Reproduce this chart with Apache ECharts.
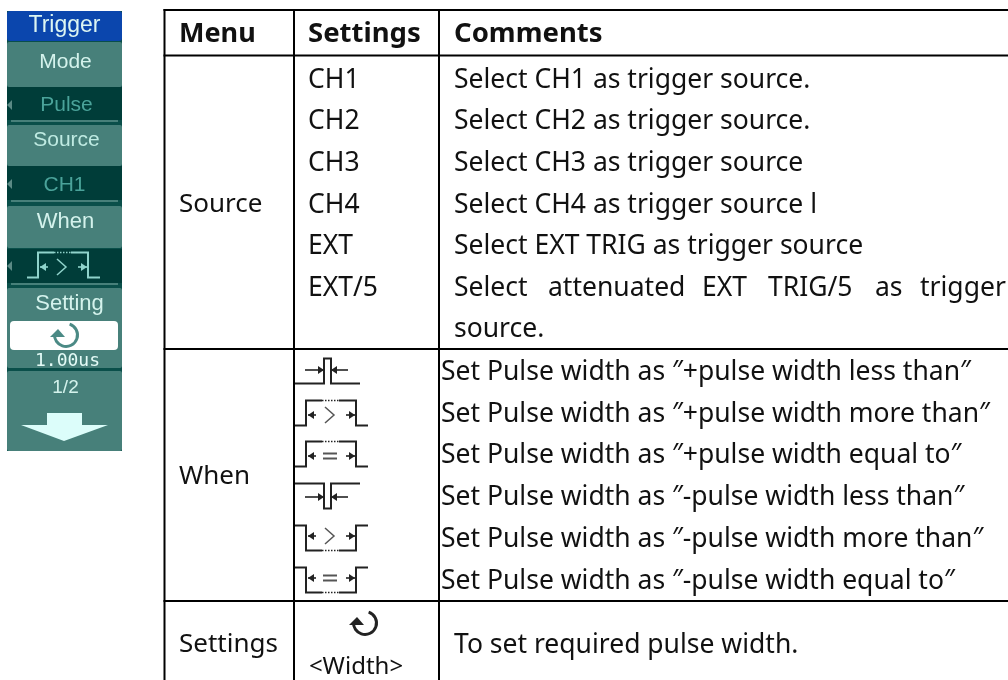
<!DOCTYPE html>
<html>
<head>
<meta charset="utf-8">
<title>Trigger - Pulse</title>
<style>
  html, body { margin: 0; background: #fff; }
  #chart { width: 1008px; height: 680px; }
</style>
<script src="https://cdn.jsdelivr.net/npm/echarts@6/dist/echarts.min.js"></script>
</head>
<body>
<div id="chart"></div>
<script>
// table text
const headers = ['Menu', 'Settings', 'Comments'];
const menus = ['Source', 'When', 'Settings'];
const sourceSettings = ['CH1', 'CH2', 'CH3', 'CH4', 'EXT', 'EXT/5'];
const sourceComments = [
  'Select CH1 as trigger source.',
  'Select CH2 as trigger source.',
  'Select CH3 as trigger source',
  'Select CH4 as trigger source l',
  'Select EXT TRIG as trigger source'
];
const justifiedWords = ['Select', 'attenuated', 'EXT', 'TRIG/5', 'as', 'trigger'];
const lastLine = 'source.';
const whenIcons = ['less+', 'more+', 'equal+', 'less-', 'more-', 'equal-'];
const whenComments = [
  'Set Pulse width as \u2033+pulse width less than\u2033',
  'Set Pulse width as \u2033+pulse width more than\u2033',
  'Set Pulse width as \u2033+pulse width equal to\u2033',
  'Set Pulse width as \u2033-pulse width less than\u2033',
  'Set Pulse width as \u2033-pulse width more than\u2033',
  'Set Pulse width as \u2033-pulse width equal to\u2033'
];
const settingsLabel = '<Width>';
const settingsComment = 'To set required pulse width.';
// softkey menu text
const menuTitle = 'Trigger';
const softkeys = ['Mode', 'Source', 'When', 'Setting'];
const softValues = ['Pulse', 'CH1'];
const settingValue = '1.00us';
const pageLabel = '1/2';

const FONT = '"Noto Sans", sans-serif';
const PANEL_FONT = '"Liberation Sans"';
const INK = '#111';
const els = [];

function rect(x, y, w, h, fill, r) {
  els.push({ type: 'rect', shape: { x, y, width: w, height: h, r: r || 0 }, style: { fill }, silent: true });
}
function line(points, stroke, width, dash) {
  els.push({
    type: 'polyline', shape: { points },
    style: { stroke, lineWidth: width || 2, fill: null, lineDash: dash || null }, silent: true
  });
}
function poly(points, fill) {
  els.push({ type: 'polygon', shape: { points }, style: { fill }, silent: true });
}
function text(str, x, y, size, fill, opts) {
  opts = opts || {};
  els.push({
    type: 'text', silent: true,
    style: {
      x, y, text: str, fill: fill || INK,
      font: (opts.weight || 'normal') + ' ' + size + 'px ' + (opts.family || FONT),
      textAlign: opts.align || 'left', textVerticalAlign: 'middle'
    }
  });
}

// small arrow with its head touching x1
function arrow(x0, x1, y, color) {
  const d = x1 > x0 ? 1 : -1;
  line([[x0, y], [x1, y]], color, 1.6);
  poly([[x1, y], [x1 - d * 6, y - 4], [x1 - d * 6, y + 4]], color);
}

// pulse width symbol, x0/yc = left edge and row centre
function pulseIcon(kind, x0, yc, color, sym) {
  const op = kind.split(/(?=[+-])/)[0];
  const up = kind.endsWith('+');
  const s = up ? 1 : -1;
  const base = yc + s * 12.5;
  const top = yc - s * 12.5;
  if (op === 'less') {
    line([[x0, base], [x0 + 29, base], [x0 + 29, top], [x0 + 36, top], [x0 + 36, base], [x0 + 65, base]], color);
    arrow(x0 + 10, x0 + 29, yc - s * 1, color);
    arrow(x0 + 53, x0 + 36, yc - s * 1, color);
    return;
  }
  line([[x0, base], [x0 + 11, base], [x0 + 11, top], [x0 + 27, top]], color);
  line([[x0 + 44, top], [x0 + 61, top], [x0 + 61, base], [x0 + 73, base]], color);
  line([[x0 + 27, top], [x0 + 44, top]], color, 1.4, [1.5, 1.5]);
  const ya = yc + 2 * s;
  arrow(x0 + 21, x0 + 13, ya, color);
  arrow(x0 + 51, x0 + 60, ya, color);
  if (op === 'more') {
    line([[x0 + 30, ya - 8], [x0 + 39, ya], [x0 + 30, ya + 8]], sym || '#555', 1.5);
  } else {
    line([[x0 + 28, ya - 2.5], [x0 + 42, ya - 2.5]], sym || '#555', 2);
    line([[x0 + 28, ya + 2.5], [x0 + 42, ya + 2.5]], sym || '#555', 2);
  }
}

function dial(cx, cy, r, width, color) {
  els.push({
    type: 'arc', silent: true,
    shape: { cx, cy, r, startAngle: -1.25, endAngle: Math.PI * 1.02, clockwise: true },
    style: { stroke: color, lineWidth: width, fill: null }
  });
  poly([[cx - 16, cy + 2], [cx - 1, cy + 2], [cx - 8, cy - 6]], color);
}

function drawPanel() {
  const bg = '#0a4f4a', btn = '#47807a', dark = '#003d39';
  const L = 7, W = 115;
  rect(L, 11, W, 440, bg);
  rect(L, 11, W, 30, '#0b46ad', 3);
  [[42, 45], [125, 41], [206, 42], [288, 80], [371, 80]].forEach(b => rect(L, b[0], W, b[1], btn, 2));
  [[87, 33], [166, 34], [249, 34]].forEach(b => rect(L, b[0], W, b[1], dark));
  [120, 200, 283].forEach(y => rect(L + 4, y, W - 8, 2, btn));
  [105, 184, 266].forEach(y => poly([[7, y], [12, y - 5], [12, y + 5]], '#5b8a85'));
  const cx = L + W / 2;
  const opt = { align: 'center', family: PANEL_FONT };
  text(menuTitle, cx, 26, 23, '#dcf5f2', opt);
  text(softkeys[0], cx + 1, 62, 21, '#d4f2ec', opt);
  text(softValues[0], cx + 2, 105, 21, '#4aa39a', opt);
  text(softkeys[1], cx + 2, 140, 21, '#bfeae2', opt);
  text(softValues[1], cx, 185, 21, '#4aa39a', opt);
  text(softkeys[2], cx + 1, 222, 22, '#d4f2ec', opt);
  pulseIcon(whenIcons[1], 27, 265, '#8fd3cb', '#8fd3cb');
  text(softkeys[3], cx + 5, 304, 22, '#d4f2ec', opt);
  rect(10, 321, 108, 29, '#fff', 4);
  dial(66, 335, 11.5, 3, '#4b8a85');
  text(settingValue, cx + 3, 361, 18, '#e4fbf7', { align: 'center', family: '"DejaVu Sans Mono"' });
  text(pageLabel, cx + 1, 388, 19, '#d4f2ec', opt);
  poly([[47, 413], [82, 413], [82, 425], [108, 425], [64, 441], [21, 425], [47, 425]], '#dcfdfa');
}

function drawTable() {
  const xs = [164.5, 294, 439];
  const ys = [10, 55.5, 349, 601];
  ys.forEach(y => line([[xs[0] - 1, y], [1008, y]], '#000', 2));
  xs.forEach(x => line([[x, 9], [x, 680]], '#000', 2));

  const size = 26.5;
  const bold = { weight: 'bold' };
  text(headers[0], 179, 34.5, 27, INK, bold);
  text(headers[1], 308, 34.5, 27.5, INK, bold);
  text(headers[2], 454, 34.5, 27.5, INK, bold);

  text(menus[0], 179, 205, 26);
  text(menus[1], 179, 477, 26);
  text(menus[2], 179, 645, 26);

  const rowY = [80, 121, 163, 205, 246, 288];
  sourceSettings.forEach((s, i) => text(s, 308, rowY[i], size));
  sourceComments.forEach((s, i) => text(s, 454, rowY[i], size));
  const wordX = [454, 548, 702, 768, 875, 920];
  justifiedWords.forEach((w, i) => text(w, wordX[i], rowY[5], size));
  text(lastLine, 454, 329, size);

  const whenY = [372, 414, 455, 497, 539, 581];
  const iconY = [371, 413, 454, 496, 538, 580];
  whenIcons.forEach((k, i) => pulseIcon(k, 295, iconY[i], '#222'));
  whenComments.forEach((s, i) => text(s, 441, whenY[i], size));

  dial(365, 623, 11.5, 3, '#222');
  text(settingsLabel, 356, 667, 24, INK, { align: 'center' });
  text(settingsComment, 454, 645, size);
}

drawPanel();
drawTable();

const chart = echarts.init(document.getElementById('chart'), null, { renderer: 'canvas' });
chart.setOption({
  animation: false,
  backgroundColor: '#fff',
  graphic: { elements: els }
});
</script>
</body>
</html>
